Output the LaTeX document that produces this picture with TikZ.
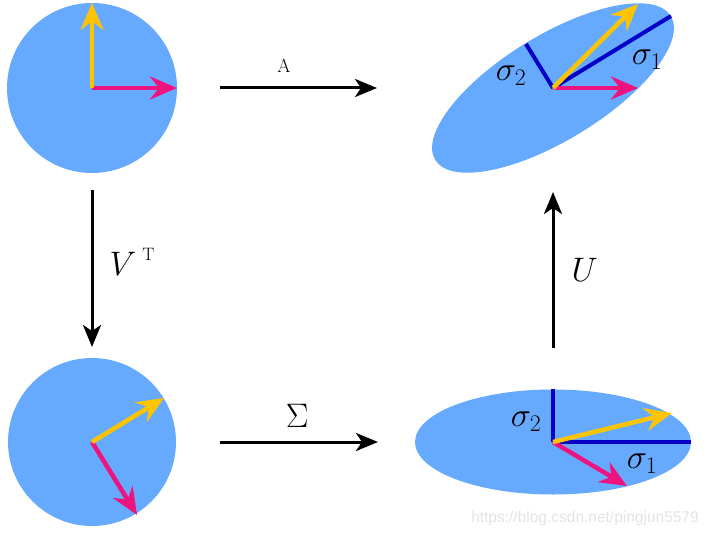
\RequirePackage{fix-cm}
\documentclass[tikz,border=0pt]{standalone}
\usepackage{fontspec}
\usepackage{tikz}
\usetikzlibrary{arrows.meta,shapes.geometric}
\newfontfamily\wmfont{Liberation Sans}
\definecolor{diskblue}{RGB}{102,170,255}
\definecolor{vecyellow}{RGB}{255,196,0}
\definecolor{vecpink}{RGB}{238,20,128}
\definecolor{axisblue}{RGB}{0,0,200}

\begin{document}
\begin{tikzpicture}[x=1pt, y=-1pt,
  blob/.style={fill=diskblue, draw=none, inner sep=0pt},
  disk/.style={blob, circle, minimum size=170pt},
  oval/.style={blob, ellipse, minimum width=276pt, minimum height=105pt},
  map/.style={line width=3pt, -{Stealth[length=22pt,width=18pt,inset=6pt]}},
  vec/.style={line width=4.5pt, -{Stealth[length=27pt,width=23pt,inset=9pt]}},
  yvec/.style={vec, vecyellow},
  pvec/.style={vec, vecpink},
  saxis/.style={axisblue, line width=4pt},
  lbl/.style={inner sep=0pt, font=\fontsize{34}{40}\selectfont},
  sig/.style={inner sep=0pt, font=\fontsize{34}{40}\selectfont},
]
  \useasboundingbox (0,0) rectangle (711,537);

  % Circles and ellipses
  \node[disk] (c1) at (92,88) {};
  \node[disk, minimum size=168pt] (c2) at (92,442) {};
  \node[oval, rotate=31.4] (e1) at (553,88) {};
  \node[oval] (e2) at (553,442) {};

  % Singular axes
  \draw[saxis] (e1.center) -- ++(118,-72);
  \draw[saxis] (e1.center) -- ++(-27,-44);
  \draw[saxis] (e2.center) -- ++(138,0);
  \draw[saxis] (e2.center) -- ++(0,-53);

  % Vectors
  \draw[pvec] (c1.center) -- ++(85,0);
  \draw[yvec] (c1.center) -- ++(0,-85);
  \draw[pvec] (c2.center) -- ++(45,73);
  \draw[yvec] (c2.center) -- ++(72,-44);
  \draw[pvec] (e1.center) -- ++(85,0);
  \draw[yvec] (e1.center) -- ++(85,-84);
  \draw[pvec] (e2.center) -- ++(74,44);
  \draw[yvec] (e2.center) -- ++(119,-29);

  % Sigma labels
  \node[sig] (s2top) at (511,76) {$\sigma_2$};
  \node[sig] (s1top) at (647,60) {$\sigma_1$};
  \node[sig] (s2bot) at (526,422) {$\sigma_2$};
  \node[sig] (s1bot) at (642,464) {$\sigma_1$};

  % Maps
  \draw[map, shorten <=128pt, shorten >=176pt] (c1.center) -- (e1.center)
    node[inner sep=0pt, font=\fontsize{19}{21}\selectfont, pos=0.4165, above=14pt] (lA) {A};
  \draw[map, shorten <=102pt, shorten >=95pt] (c1.center) -- (c2.center)
    node[lbl, pos=0.49, right=16pt] (lV)
    {$V$\hspace{6pt}\raisebox{15pt}{\fontsize{18}{20}\selectfont T}};
  \draw[map, shorten <=128pt, shorten >=175pt] (c2.center) -- (e2.center)
    node[lbl, pos=0.445, above=13pt] (lS) {$\Sigma$};
  \draw[map, shorten <=94pt, shorten >=104pt] (e2.center) -- (e1.center)
    node[lbl, pos=0.487, right=17pt] (lU) {$U$};

  \node[text=gray!22, font=\wmfont\fontsize{15.5}{18}\selectfont] (wm) at (585,518)
    {https://blog.csdn.net/pingjun5579};
\end{tikzpicture}
\end{document}
